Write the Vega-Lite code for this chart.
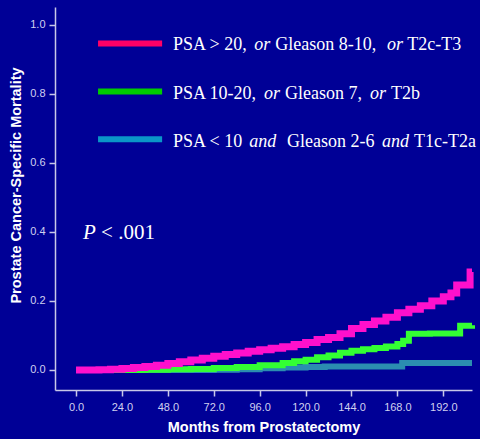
{
  "$schema": "https://vega.github.io/schema/vega-lite/v6.json",
  "autosize": "none",
  "width": 417,
  "height": 383,
  "padding": {"left": 55, "top": 7, "right": 8, "bottom": 49},
  "background": "#000096",
  "config": {
    "view": {"stroke": null},
    "axis": {
      "domainColor": "#c8c8e8",
      "tickColor": "#c8c8e8",
      "labelColor": "#d0d0f0",
      "labelFont": "Liberation Sans",
      "labelFontSize": 11,
      "titleFont": "Liberation Sans",
      "titleFontSize": 14.5,
      "titleFontWeight": "bold",
      "titleColor": "#ffffff",
      "grid": false,
      "tickSize": 6,
      "domainWidth": 1.5,
      "tickWidth": 1.5
    }
  },
  "datasets": {
    "curves": [
      {"group": "teal", "month": 0, "value": 0},
      {"group": "teal", "month": 48, "value": 0},
      {"group": "teal", "month": 72, "value": 0.001},
      {"group": "teal", "month": 84, "value": 0.002},
      {"group": "teal", "month": 96, "value": 0.005},
      {"group": "teal", "month": 108, "value": 0.007},
      {"group": "teal", "month": 120, "value": 0.009},
      {"group": "teal", "month": 130, "value": 0.010},
      {"group": "teal", "month": 150, "value": 0.010},
      {"group": "teal", "month": 170.5, "value": 0.020},
      {"group": "teal", "month": 207, "value": 0.020},
      {"group": "green", "month": 0, "value": 0},
      {"group": "green", "month": 36, "value": 0.001},
      {"group": "green", "month": 48, "value": 0.002},
      {"group": "green", "month": 60, "value": 0.003},
      {"group": "green", "month": 72, "value": 0.006},
      {"group": "green", "month": 84, "value": 0.009},
      {"group": "green", "month": 96, "value": 0.014},
      {"group": "green", "month": 108, "value": 0.020},
      {"group": "green", "month": 114, "value": 0.025},
      {"group": "green", "month": 120, "value": 0.030},
      {"group": "green", "month": 126, "value": 0.037},
      {"group": "green", "month": 132, "value": 0.042},
      {"group": "green", "month": 138, "value": 0.050},
      {"group": "green", "month": 144, "value": 0.056},
      {"group": "green", "month": 150, "value": 0.060},
      {"group": "green", "month": 156, "value": 0.064},
      {"group": "green", "month": 162, "value": 0.068},
      {"group": "green", "month": 168, "value": 0.075},
      {"group": "green", "month": 171, "value": 0.085},
      {"group": "green", "month": 174, "value": 0.105},
      {"group": "green", "month": 185, "value": 0.106},
      {"group": "green", "month": 200.8, "value": 0.128},
      {"group": "green", "month": 207, "value": 0.130},
      {"group": "pink", "month": 0, "value": 0},
      {"group": "pink", "month": 12, "value": 0.001},
      {"group": "pink", "month": 18, "value": 0.002},
      {"group": "pink", "month": 24, "value": 0.004},
      {"group": "pink", "month": 30, "value": 0.007},
      {"group": "pink", "month": 36, "value": 0.010},
      {"group": "pink", "month": 42, "value": 0.014},
      {"group": "pink", "month": 48, "value": 0.019},
      {"group": "pink", "month": 54, "value": 0.024},
      {"group": "pink", "month": 60, "value": 0.029},
      {"group": "pink", "month": 66, "value": 0.034},
      {"group": "pink", "month": 72, "value": 0.040},
      {"group": "pink", "month": 78, "value": 0.045},
      {"group": "pink", "month": 84, "value": 0.049},
      {"group": "pink", "month": 90, "value": 0.054},
      {"group": "pink", "month": 96, "value": 0.059},
      {"group": "pink", "month": 102, "value": 0.063},
      {"group": "pink", "month": 108, "value": 0.067},
      {"group": "pink", "month": 114, "value": 0.074},
      {"group": "pink", "month": 120, "value": 0.080},
      {"group": "pink", "month": 126, "value": 0.088},
      {"group": "pink", "month": 132, "value": 0.094},
      {"group": "pink", "month": 138, "value": 0.105},
      {"group": "pink", "month": 144, "value": 0.120},
      {"group": "pink", "month": 150, "value": 0.132},
      {"group": "pink", "month": 156, "value": 0.142},
      {"group": "pink", "month": 162, "value": 0.153},
      {"group": "pink", "month": 168, "value": 0.166},
      {"group": "pink", "month": 174, "value": 0.176},
      {"group": "pink", "month": 180, "value": 0.186},
      {"group": "pink", "month": 186, "value": 0.200},
      {"group": "pink", "month": 192, "value": 0.212},
      {"group": "pink", "month": 196, "value": 0.223},
      {"group": "pink", "month": 199, "value": 0.246},
      {"group": "pink", "month": 206, "value": 0.284},
      {"group": "pink", "month": 207, "value": 0.284}
    ],
    "legendLines": [
      {"group": "pink", "x1": 11.5, "x2": 45, "y": 0.946},
      {"group": "green", "x1": 11.5, "x2": 45, "y": 0.807},
      {"group": "teal", "x1": 11.5, "x2": 45, "y": 0.669}
    ],
    "labels": [
      {"txt": "PSA > 20,", "style": "normal", "x": 50.7, "y": 0.9275},
      {"txt": "or", "style": "italic", "x": 93.1, "y": 0.9275},
      {"txt": "Gleason 8-10,", "style": "normal", "x": 104.1, "y": 0.9275},
      {"txt": "or", "style": "italic", "x": 162.6, "y": 0.9275},
      {"txt": "T2c-T3", "style": "normal", "x": 173.1, "y": 0.9275},
      {"txt": "PSA 10-20,", "style": "normal", "x": 50.7, "y": 0.7855},
      {"txt": "or", "style": "italic", "x": 98.3, "y": 0.7855},
      {"txt": "Gleason 7,", "style": "normal", "x": 109.3, "y": 0.7855},
      {"txt": "or", "style": "italic", "x": 153.7, "y": 0.7855},
      {"txt": "T2b", "style": "normal", "x": 164.7, "y": 0.7855},
      {"txt": "PSA < 10", "style": "normal", "x": 50.7, "y": 0.6464},
      {"txt": "and", "style": "italic", "x": 90.5, "y": 0.6464},
      {"txt": "Gleason 2-6", "style": "normal", "x": 110.3, "y": 0.6464},
      {"txt": "and", "style": "italic", "x": 160.0, "y": 0.6464},
      {"txt": "T1c-T2a", "style": "normal", "x": 176.7, "y": 0.6464}
    ],
    "pval": [
      {"txt": "P", "style": "italic", "x": 3.66, "y": 0.38},
      {"txt": "< .001", "style": "normal", "x": 13.1, "y": 0.38}
    ]
  },
  "encoding": {
    "x": {"type": "quantitative"},
    "y": {"type": "quantitative"}
  },
  "layer": [
    {
      "data": {"name": "curves"},
      "transform": [{"filter": "datum.group === 'teal'"}],
      "mark": {"type": "line", "interpolate": "step-after", "strokeWidth": 6, "color": "#2b8db0", "strokeCap": "butt"},
      "encoding": {
        "x": {"field": "month", "type": "quantitative", "scale": {"domain": [-11, 207], "nice": false, "zero": false},
          "axis": {"title": "Months from Prostatectomy", "values": [0, 24, 48, 72, 96, 120, 144, 168, 192], "format": ".1f", "labelPadding": 5, "titlePadding": 8}},
        "y": {"field": "value", "type": "quantitative", "scale": {"domain": [-0.058, 1.052], "nice": false, "zero": false},
          "axis": {"title": "Prostate Cancer-Specific Mortality", "values": [0, 0.2, 0.4, 0.6, 0.8, 1.0], "format": ".1f", "labelPadding": 4, "titlePadding": 6, "titleY": 178}}
      }
    },
    {
      "data": {"name": "curves"},
      "transform": [{"filter": "datum.group === 'green'"}],
      "mark": {"type": "line", "interpolate": "step-after", "strokeWidth": 6, "color": "#33ff33", "strokeCap": "butt"},
      "encoding": {
        "x": {"field": "month", "type": "quantitative"},
        "y": {"field": "value", "type": "quantitative"}
      }
    },
    {
      "data": {"name": "curves"},
      "transform": [{"filter": "datum.group === 'pink'"}],
      "mark": {"type": "line", "interpolate": "step-after", "strokeWidth": 7, "color": "#ff10cc", "strokeCap": "butt"},
      "encoding": {
        "x": {"field": "month", "type": "quantitative"},
        "y": {"field": "value", "type": "quantitative"}
      }
    },
    {
      "data": {"name": "legendLines"},
      "mark": {"type": "rule", "strokeWidth": 6},
      "encoding": {
        "x": {"field": "x1", "type": "quantitative"},
        "x2": {"field": "x2"},
        "y": {"field": "y", "type": "quantitative"},
        "color": {"field": "group", "type": "nominal", "legend": null,
          "scale": {"domain": ["pink", "green", "teal"], "range": ["#ff0066", "#00cc00", "#0a96c8"]}}
      }
    },
    {
      "data": {"name": "labels"},
      "transform": [{"filter": "datum.style === 'normal'"}],
      "mark": {"type": "text", "font": "Liberation Serif", "fontSize": 18, "color": "#ffffff", "align": "left", "baseline": "alphabetic"},
      "encoding": {
        "x": {"field": "x", "type": "quantitative"},
        "y": {"field": "y", "type": "quantitative"},
        "text": {"field": "txt"}
      }
    },
    {
      "data": {"name": "labels"},
      "transform": [{"filter": "datum.style === 'italic'"}],
      "mark": {"type": "text", "font": "Liberation Serif", "fontSize": 18, "fontStyle": "italic", "color": "#ffffff", "align": "left", "baseline": "alphabetic"},
      "encoding": {
        "x": {"field": "x", "type": "quantitative"},
        "y": {"field": "y", "type": "quantitative"},
        "text": {"field": "txt"}
      }
    },
    {
      "data": {"name": "pval"},
      "transform": [{"filter": "datum.style === 'italic'"}],
      "mark": {"type": "text", "font": "Liberation Serif", "fontSize": 21, "fontStyle": "italic", "color": "#ffffff", "align": "left", "baseline": "alphabetic"},
      "encoding": {
        "x": {"field": "x", "type": "quantitative"},
        "y": {"field": "y", "type": "quantitative"},
        "text": {"field": "txt"}
      }
    },
    {
      "data": {"name": "pval"},
      "transform": [{"filter": "datum.style === 'normal'"}],
      "mark": {"type": "text", "font": "Liberation Serif", "fontSize": 21, "color": "#ffffff", "align": "left", "baseline": "alphabetic"},
      "encoding": {
        "x": {"field": "x", "type": "quantitative"},
        "y": {"field": "y", "type": "quantitative"},
        "text": {"field": "txt"}
      }
    }
  ]
}
